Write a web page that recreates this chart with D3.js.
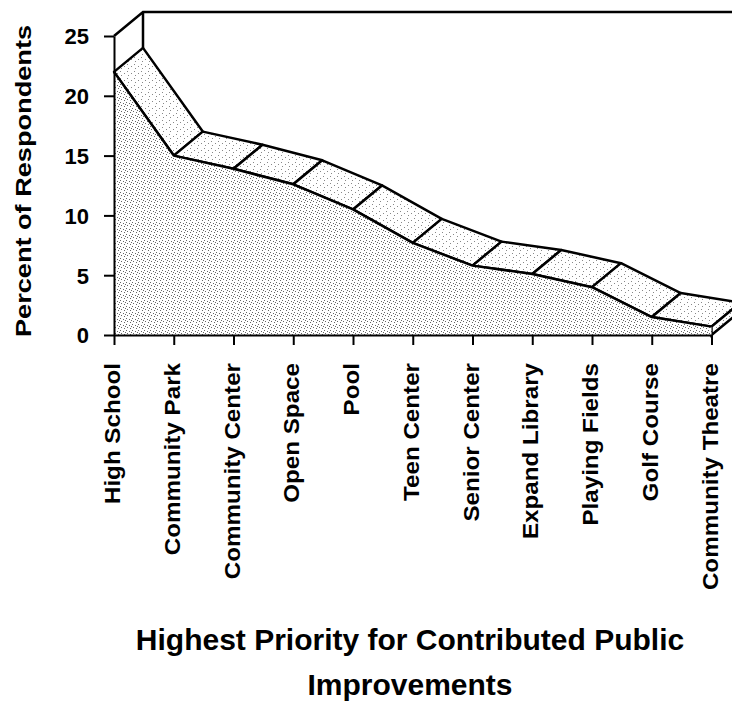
<!DOCTYPE html>
<html>
<head>
	<title>Highest Priority for Contributed Public Improvements</title>
	<script src="https://d3js.org/d3.v7.min.js"></script>
	<style>
		body { margin: 0; background: #fff; }
		text { font-family: "Liberation Sans", Arial, sans-serif; font-weight: bold; fill: #000; }
	</style>
</head>
<body>
	<svg id="chart" width="732" height="707"></svg>

	<script type="text/javascript">
// 数据
var categories = ["High School", "Community Park", "Community Center", "Open Space", "Pool",
                  "Teen Center", "Senior Center", "Expand Library", "Playing Fields", "Golf Course",
                  "Community Theatre"];
var percents = [22, 15, 13.9, 12.6, 10.5, 7.7, 5.8, 5.1, 4.0, 1.5, 0.7];
var yTicks = [0, 5, 10, 15, 20, 25];
var yTitle = "Percent of Respondents";
var xTitle = ["Highest Priority for Contributed Public", "Improvements"];

var svg = d3.select('#chart');
var datas = categories.map(function(c, i) { return {cat: c, v: percents[i]}; });

var x = d3.scalePoint().domain(categories).range([114, 711.5]);
var y = d3.scaleLinear().domain([0, 25]).range([335, 36]);
//  3D 深度偏移
var dx = 29, dy = -24;

//  点状填充
var defs = svg.append('defs');
function stipple(id, size, dots, color) {
    var p = defs.append('pattern')
        .attr('id', id)
        .attr('patternUnits', 'userSpaceOnUse')
        .attr('width', size).attr('height', size);
    p.append('rect').attr('width', size).attr('height', size).attr('fill', '#fff');
    dots.forEach(function(d) {
        p.append('rect').attr('x', d[0]).attr('y', d[1])
            .attr('width', 1).attr('height', 1).attr('fill', color);
    });
}
stipple('front', 6, [[0, 0], [3, 1], [1, 3], [4, 4], [5, 2]], '#666');
stipple('ribbon', 7, [[1, 1], [5, 3], [2, 5]], '#888');

var g = svg.append('g');

//  后墙
var yTop = y(25), x0 = x(categories[0]), xN = x(categories[categories.length - 1]);
g.append('path')
    .attr('d', 'M' + x0 + ',' + yTop +
               'L' + (x0 + dx) + ',' + (yTop + dy) +
               'L' + (xN + dx) + ',' + (yTop + dy) +
               'M' + (x0 + dx) + ',' + (yTop + dy) +
               'L' + (x0 + dx) + ',' + (y(0) + dy))
    .attr('fill', 'none')
    .attr('stroke', '#000')
    .attr('stroke-width', 2.5);

//  顶面条带
for (var i = 0; i < datas.length - 1; i++) {
    var a = datas[i], b = datas[i + 1];
    var pts = [
        [x(a.cat), y(a.v)],
        [x(b.cat), y(b.v)],
        [x(b.cat) + dx, y(b.v) + dy],
        [x(a.cat) + dx, y(a.v) + dy]
    ];
    g.append('path')
        .attr('d', 'M' + pts.join('L') + 'Z')
        .attr('fill', 'url(#ribbon)')
        .attr('stroke', '#000')
        .attr('stroke-width', 2.5)
        .attr('stroke-linejoin', 'round');
}

//  右端面
var last = datas[datas.length - 1];
var endPts = [
    [x(last.cat), y(last.v)],
    [x(last.cat) + dx, y(last.v) + dy],
    [x(last.cat) + dx, y(0) + dy],
    [x(last.cat), y(0)]
];
g.append('path')
    .attr('d', 'M' + endPts.join('L') + 'Z')
    .attr('fill', 'url(#ribbon)')
    .attr('stroke', '#000')
    .attr('stroke-width', 2.5);

//  正面面积
var area = d3.area()
    .x(function(d) { return x(d.cat); })
    .y0(y(0))
    .y1(function(d) { return y(d.v); });
var line = d3.line()
    .x(function(d) { return x(d.cat); })
    .y(function(d) { return y(d.v); });

g.append('path')
    .attr('d', area(datas))
    .attr('fill', 'url(#front)');
g.append('path')
    .attr('d', line(datas))
    .attr('fill', 'none')
    .attr('stroke', '#000')
    .attr('stroke-width', 2.5)
    .attr('stroke-linejoin', 'round');

//  Y 轴
var yAxis = g.append('g')
    .attr('transform', 'translate(' + x0 + ',0)')
    .call(d3.axisLeft(y).tickValues(yTicks).tickSize(10).tickSizeOuter(0).tickPadding(15));
yAxis.selectAll('path, line').attr('stroke', '#000').attr('stroke-width', 2);
yAxis.selectAll('text').style('font-size', '22px').attr('dy', '0.36em');

//  X 轴
var xAxis = g.append('g')
    .attr('transform', 'translate(0,' + y(0) + ')')
    .call(d3.axisBottom(x).tickSize(10).tickSizeOuter(0));
xAxis.selectAll('path, line').attr('stroke', '#000').attr('stroke-width', 2);
xAxis.selectAll('text')
    .style('font-size', '22px')
    .attr('text-anchor', 'end')
    .attr('x', 0).attr('y', 0)
    .attr('dy', '0.26em')
    .attr('transform', 'translate(0,28) rotate(-90) scale(1.1,1)');

//  轴标题
svg.append('text')
    .attr('transform', 'translate(31,181) rotate(-90)')
    .attr('text-anchor', 'middle')
    .attr('textLength', 312)
    .attr('lengthAdjust', 'spacingAndGlyphs')
    .style('font-size', '22px')
    .text(yTitle);

svg.selectAll('.xtitle')
    .data(xTitle)
    .enter().append('text')
    .attr('class', 'xtitle')
    .attr('x', 410)
    .attr('y', function(d, i) { return 650 + i * 45; })
    .attr('text-anchor', 'middle')
    .style('font-size', '30px')
    .text(function(d) { return d; });
</script>
</body>
</html>
